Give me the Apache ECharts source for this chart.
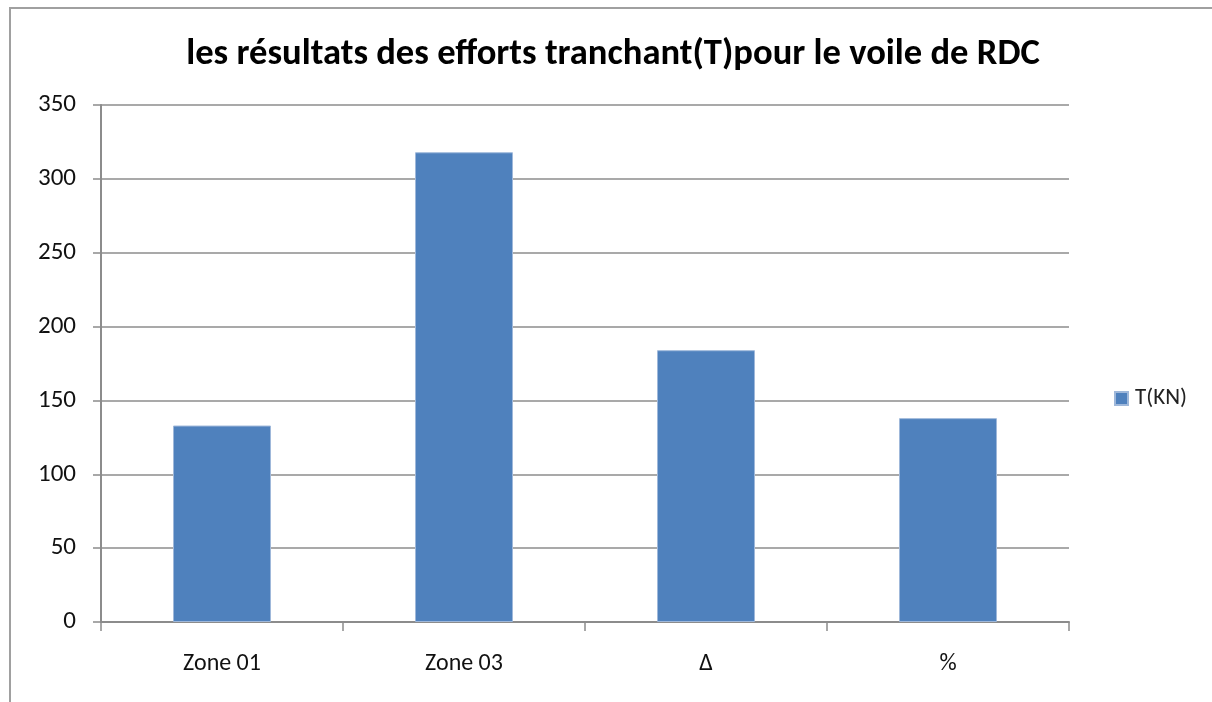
<!DOCTYPE html>
<html>
<head>
<meta charset="utf-8">
<script src="https://cdn.jsdelivr.net/npm/echarts@6/dist/echarts.min.js"></script>
<style>
  html, body { margin: 0; padding: 0; background: #fff; }
  #chart { width: 1212px; height: 702px; }
</style>
</head>
<body>
<div id="chart"></div>
<script>
// Shear force results per zone
const categories = ['Zone 01', 'Zone 03', 'Δ', '%'];
const shearValues = [133, 318, 184, 138];
const seriesName = 'T(KN)';
const titleText = 'les résultats des efforts tranchant(T)pour le voile de RDC';

const chart = echarts.init(document.getElementById('chart'));
const font = 'Carlito, "Open Sans", "Liberation Sans", sans-serif';

chart.setOption({
  backgroundColor: '#ffffff',
  animation: false,
  title: {
    text: titleText,
    left: 608,
    textAlign: 'center',
    top: 31,
    textStyle: { fontFamily: font, fontWeight: 'bold', fontSize: 36.6, color: '#000' }
  },
  legend: {
    left: 1109,
    top: 382,
    itemWidth: 13,
    itemHeight: 13,
    icon: 'rect',
    itemGap: 6,
    textStyle: { fontFamily: font, fontSize: 23, color: '#222', padding: [0, 0, 0, 2] },
    data: [seriesName]
  },
  grid: { left: 101, top: 105, width: 968, height: 517 },
  xAxis: {
    type: 'category',
    data: categories,
    axisLine: { lineStyle: { color: '#8c8c8c', width: 2 } },
    axisTick: { show: true, length: 9, lineStyle: { color: '#8c8c8c', width: 1.5 } },
    axisLabel: { margin: 30, fontFamily: font, fontSize: 24, color: '#111' }
  },
  yAxis: {
    type: 'value',
    min: 0,
    max: 350,
    interval: 50,
    axisLine: { show: true, lineStyle: { color: '#8c8c8c', width: 2 } },
    axisTick: { show: true, length: 8, lineStyle: { color: '#8c8c8c', width: 1.5 } },
    axisLabel: { margin: 25, fontFamily: font, fontSize: 25, color: '#111' },
    splitLine: { lineStyle: { color: '#8c8c8c', width: 1.5 } }
  },
  series: [{
    name: seriesName,
    type: 'bar',
    data: shearValues,
    barWidth: 98,
    itemStyle: { color: '#4f81bd', borderColor: '#9fb8da', borderWidth: 1 }
  }],
  graphic: [{
    type: 'rect',
    shape: { x: 10, y: 8, width: 1260, height: 760 },
    style: { fill: 'none', stroke: '#a0a0a0', lineWidth: 2 },
    z: -1
  }]
});
</script>
</body>
</html>
